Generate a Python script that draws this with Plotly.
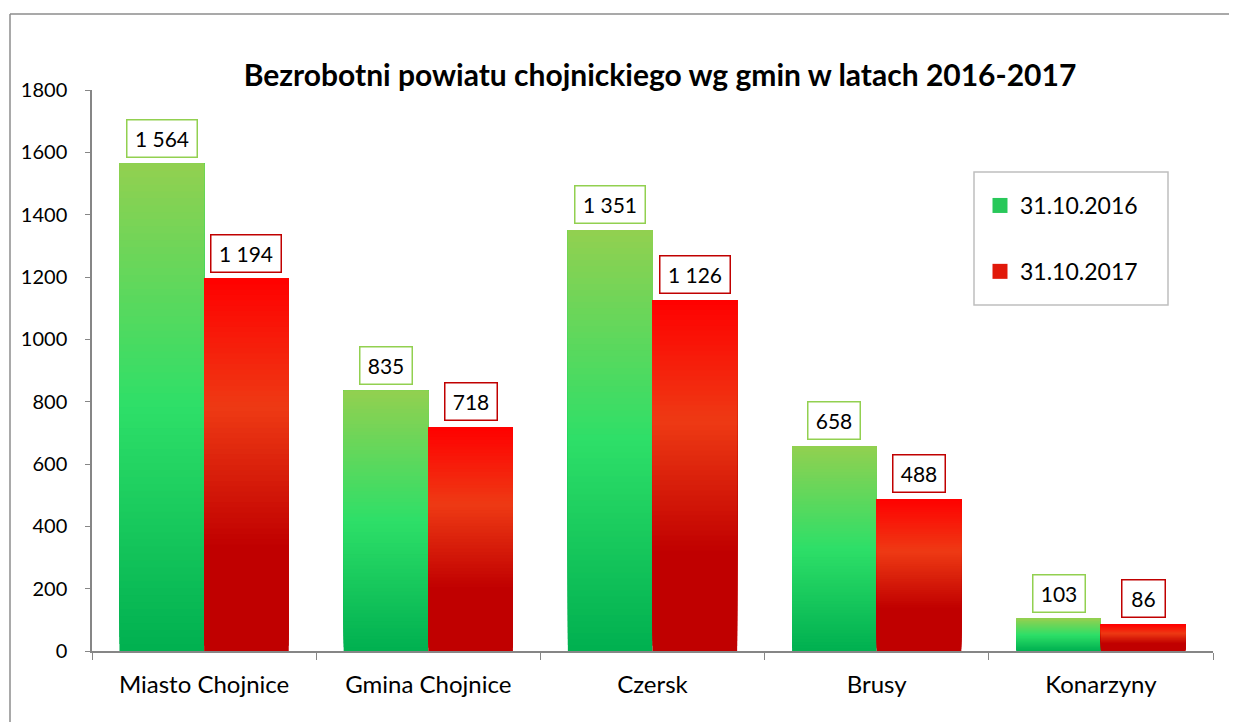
import plotly.graph_objects as go

# dane
gminy = ["Miasto Chojnice", "Gmina Chojnice", "Czersk", "Brusy", "Konarzyny"]
bezrobotni_2016 = [1564, 835, 1351, 658, 103]
bezrobotni_2017 = [1194, 718, 1126, 488, 86]
seria_2016 = "31.10.2016"
seria_2017 = "31.10.2017"
y_ticks = [0, 200, 400, 600, 800, 1000, 1200, 1400, 1600, 1800]

FONT = "Lato"
N_SEG = 70
PAGE_OFF = 8  # body margin of the html page

# gradient stops (fraction from bottom, rgb)
green_stops = [(0.0, (0, 176, 80)), (0.5, (46, 223, 104)), (1.0, (146, 208, 80))]
red_stops = [(0.0, (192, 0, 0)), (0.28, (192, 0, 0)), (0.655, (238, 58, 20)), (1.0, (255, 0, 0))]


def grad_color(stops, f):
    for (f0, c0), (f1, c1) in zip(stops[:-1], stops[1:]):
        if f0 <= f <= f1:
            t = 0 if f1 == f0 else (f - f0) / (f1 - f0)
            c = [round(a + (b - a) * t) for a, b in zip(c0, c1)]
            return "rgb(%d,%d,%d)" % tuple(c)
    return "rgb(%d,%d,%d)" % stops[-1][1]


def fmt(v):
    return f"{v:,}".replace(",", " ")


fig = go.Figure()

# gradient bars: each layer covers from k/N up to the top, later layers drawn over
for values, stops, group in [(bezrobotni_2016, green_stops, "a"), (bezrobotni_2017, red_stops, "b")]:
    for k in range(N_SEG):
        f = k / N_SEG
        fig.add_trace(go.Bar(
            x=gminy,
            y=[v * (1 - f) for v in values],
            base=[v * f for v in values],
            offsetgroup=group,
            marker=dict(color=grad_color(stops, (k + 0.5) / N_SEG), line=dict(width=0)),
            showlegend=False,
            hoverinfo="skip",
        ))

# legend entries
fig.add_trace(go.Scatter(
    x=[None], y=[None], mode="markers", name=seria_2016, legendgroup="l1",
    marker=dict(symbol="square", size=15, color="rgb(40,200,90)"),
))
fig.add_trace(go.Scatter(
    x=[None], y=[None], mode="markers", name=seria_2017, legendgroup="l2",
    marker=dict(symbol="square", size=15, color="rgb(225,25,10)"),
))

# data labels
off = (1 - 0.245) / 4
for i, (a, b) in enumerate(zip(bezrobotni_2016, bezrobotni_2017)):
    for val, dx, col in [(a, -off, "#92d050"), (b, off, "#c00000")]:
        txt = fmt(val)
        fig.add_annotation(
            x=i + dx, y=val, xref="x", yref="y",
            text=txt, showarrow=False, yanchor="bottom", yshift=6,
            font=dict(family=FONT, size=21, color="black"),
            bgcolor="white", bordercolor=col, borderwidth=1.5,
            width=9 * len(txt) + 12, height=24, borderpad=6,
        )

# pixel -> paper helpers (screenshot pixels)
X0, X1, Y0, Y1 = 92, 1213, 90, 651


def px_x(p):
    return (p - X0) / (X1 - X0)


def px_y(p):
    return (Y1 - p) / (Y1 - Y0)


shapes = [
    # outer frame
    dict(type="line", xref="paper", yref="paper", x0=px_x(10), x1=px_x(1260),
         y0=px_y(14), y1=px_y(14), line=dict(color="#8c8c8c", width=1.5)),
    dict(type="line", xref="paper", yref="paper", x0=px_x(10), x1=px_x(10),
         y0=px_y(14), y1=px_y(760), line=dict(color="#8c8c8c", width=1.5)),
    # legend box
    dict(type="rect", xref="paper", yref="paper", x0=px_x(974), x1=px_x(1168),
         y0=px_y(305), y1=px_y(172), line=dict(color="#bfbfbf", width=1.5),
         fillcolor="white", layer="below"),
]

fig.update_layout(
    width=1237, height=722,
    margin=dict(l=X0 - PAGE_OFF, r=1237 - X1 + PAGE_OFF, t=Y0 - PAGE_OFF, b=722 - Y1 + PAGE_OFF),
    paper_bgcolor="white", plot_bgcolor="white",
    barmode="group", bargap=0.245, bargroupgap=0,
    title=dict(
        text="<b>Bezrobotni powiatu chojnickiego wg gmin w latach 2016-2017</b>",
        x=px_x(660), xref="paper", xanchor="center",
        y=1 - (75 - PAGE_OFF) / 722, yref="container", yanchor="middle",
        font=dict(family=FONT, size=30, color="black"),
    ),
    legend=dict(
        x=px_x(980), y=px_y(184), xanchor="left", yanchor="top",
        bgcolor="rgba(0,0,0,0)", borderwidth=0,
        font=dict(family=FONT, size=23, color="black"),
        tracegroupgap=33, itemwidth=30,
    ),
    shapes=shapes,
    showlegend=True,
)

fig.update_yaxes(
    range=[0, 1800], tickvals=y_ticks, showgrid=False, zeroline=False,
    showline=True, linecolor="#868686", linewidth=1.5,
    ticks="outside", ticklen=5, tickcolor="#868686",
    tickfont=dict(family=FONT, size=20, color="black"),
    ticklabelstandoff=14,
)
fig.update_xaxes(
    showline=True, linecolor="#868686", linewidth=1.5,
    ticks="outside", ticklen=7, tickcolor="#868686", tickson="boundaries",
    tickfont=dict(family=FONT, size=24, color="black"),
    ticklabelstandoff=11, showgrid=False,
)

fig.write_html("out.html")
